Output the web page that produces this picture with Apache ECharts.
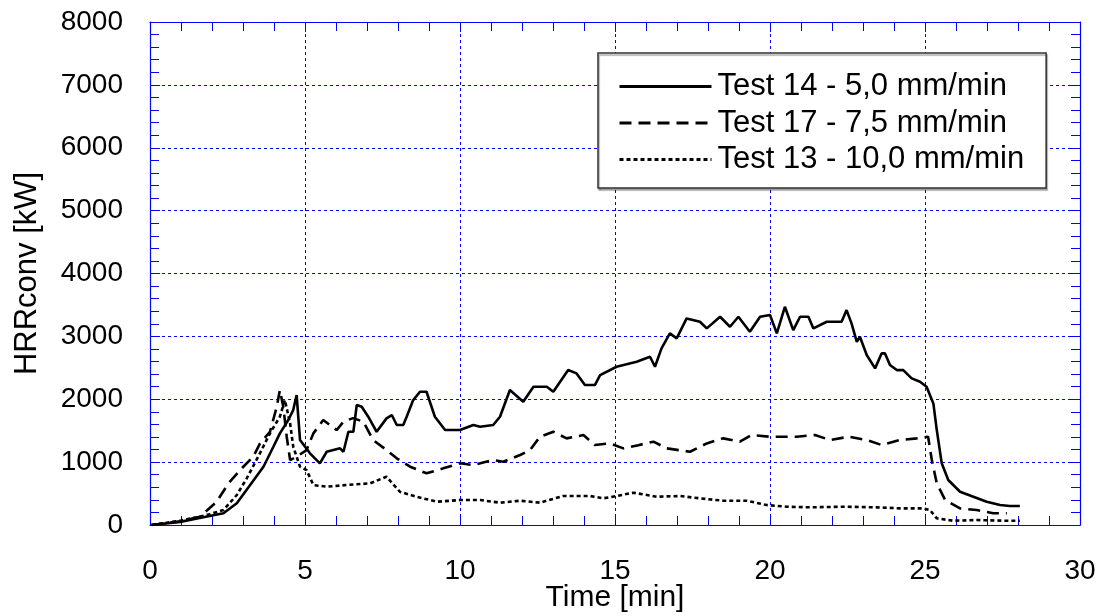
<!DOCTYPE html>
<html>
<head>
<meta charset="utf-8">
<script src="https://cdn.jsdelivr.net/npm/echarts@6/dist/echarts.min.js"></script>
<style>html,body{margin:0;padding:0;background:#fff;}#c{width:1114px;height:616px;}</style>
</head>
<body>
<div id="c"></div>
<script>
// Test 14 - 5,0 mm/min (solid)
const t14 = [0.05,0.97,1.6,2.37,2.8,3.23,3.66,3.98,4.19,4.46,4.62,4.73,4.84,5.16,5.48,5.7,6.13,6.24,6.4,6.56,6.67,6.83,7.04,7.31,7.63,7.8,7.96,8.17,8.28,8.49,8.71,8.92,9.19,9.52,10.0,10.43,10.65,11.07,11.29,11.61,12.04,12.37,12.8,13.01,13.49,13.76,14.03,14.35,14.52,15.05,15.7,16.13,16.29,16.5,16.77,16.99,17.31,17.74,17.96,18.39,18.71,18.98,19.35,19.68,20.0,20.22,20.48,20.75,20.97,21.24,21.4,21.83,22.31,22.47,22.63,22.8,22.9,23.12,23.39,23.6,23.71,23.87,24.09,24.3,24.57,24.84,25.05,25.27,25.38,25.54,25.75,26.13,26.56,26.99,27.42,27.74,28.06];
const v14 = [0,50,110,186,345,636,927,1245,1458,1670,1828,2067,1351,1140,981,1165,1219,1165,1483,1483,1908,1881,1722,1483,1696,1749,1590,1590,1722,1987,2119,2119,1722,1510,1510,1590,1563,1590,1722,2146,1960,2199,2199,2119,2464,2411,2226,2226,2385,2517,2597,2676,2517,2809,3048,2968,3286,3233,3127,3312,3153,3312,3074,3312,3339,3048,3471,3100,3312,3312,3127,3233,3233,3418,3207,2914,2994,2703,2491,2729,2729,2544,2464,2464,2332,2279,2199,1934,1510,981,715,529,450,370,318,302,302];
// Test 17 - 7,5 mm/min (dashed)
const t17 = [0.05,1.0,1.61,2.15,2.53,2.96,3.33,3.55,3.87,4.09,4.19,4.3,4.41,4.52,4.73,5.05,5.27,5.59,6.02,6.24,6.55,6.88,7.2,7.63,7.96,8.39,8.92,9.46,10.0,10.43,11.07,11.4,11.94,12.26,12.58,13.01,13.44,13.98,14.35,14.84,15.27,15.75,16.24,16.67,17.42,17.96,18.49,19.03,19.4,20.0,20.32,20.86,21.45,21.94,22.53,23.12,23.6,24.19,24.73,25.1,25.22,25.38,25.65,26.13,26.67,27.2,27.64];
const v17 = [0,60,132,370,662,901,1086,1298,1483,1881,2146,1881,1404,1033,1086,1192,1457,1670,1510,1643,1700,1643,1351,1192,1060,927,822,901,981,954,1033,1007,1113,1192,1404,1483,1378,1431,1272,1298,1219,1270,1325,1219,1165,1298,1378,1325,1431,1404,1404,1404,1431,1351,1404,1351,1272,1351,1378,1404,1033,662,397,265,238,186,186];
// Test 13 - 10,0 mm/min (dotted)
const t13 = [0.05,1.0,1.83,2.37,2.8,3.12,3.49,3.87,4.19,4.35,4.52,4.62,4.84,5.05,5.27,5.7,6.34,7.1,7.63,8.06,8.6,9.25,10.0,10.65,11.29,11.94,12.58,13.33,14.19,14.62,15.05,15.59,16.34,17.1,17.74,18.49,19.25,19.89,20.54,21.29,22.36,23.44,24.19,24.95,25.16,25.38,25.91,26.67,27.53,28.06];
const v13 = [0,70,159,238,477,742,1086,1458,1722,1987,1616,1245,927,874,636,609,636,662,768,529,450,370,397,397,355,386,355,461,461,424,461,514,450,461,424,386,386,318,291,281,291,281,265,265,238,106,68,79,68,68];

const names = ['Test 14 - 5,0 mm/min','Test 17 - 7,5 mm/min','Test 13 - 10,0 mm/min'];
const xTicks = [0,5,10,15,20,25,30];
const yTicks = [0,1000,2000,3000,4000,5000,6000,7000,8000];

const zip = (t, v) => t.map((x, i) => [x, v[i]]);
const FONT = '"Liberation Sans", Arial, sans-serif';
const BLUE = '#0000ff';

const mkLine = (name, data, type) => ({
  name, type: 'line', data, symbol: 'none', showSymbol: false,
  xAxisIndex: 0, yAxisIndex: 0,
  lineStyle: { color: '#000', width: 2.6, type: type },
  itemStyle: { color: '#000' },
  animation: false, z: 5
});

const tickCfg = { show: true, inside: true, length: 10, lineStyle: { color: BLUE, width: 1 } };
const minorCfg = { show: true, splitNumber: 5, length: 9, lineStyle: { color: BLUE, width: 1 } };
const lineCfg = { show: true, onZero: false, lineStyle: { color: BLUE, width: 1.2 } };

const chart = echarts.init(document.getElementById('c'));
chart.setOption({
  backgroundColor: '#fff',
  animation: false,
  grid: { left: 150, right: 34, top: 22, bottom: 91, containLabel: false, outerBoundsMode: 'none' },
  legend: {
    orient: 'vertical', left: 598, top: 53,
    padding: [18, 22, 13, 20], itemGap: 5.5,
    itemWidth: 92, itemHeight: 14,
    borderColor: '#333', borderWidth: 1.5, backgroundColor: '#fff',
    shadowColor: 'rgba(0,0,0,0.35)', shadowOffsetX: 1, shadowOffsetY: 2, shadowBlur: 1,
    itemStyle: { opacity: 0 },
    lineStyle: { width: 3 },
    textStyle: { fontFamily: FONT, fontSize: 31, color: '#000', padding: [0, 0, 0, 1] },
    data: names
  },
  xAxis: [{
    type: 'value', min: 0, max: 30, interval: 5,
    name: 'Time [min]', nameLocation: 'middle', nameGap: 58, nameMoveOverlap: false,
    nameTextStyle: { fontFamily: FONT, fontSize: 30, color: '#000' },
    axisLine: lineCfg, axisTick: tickCfg, minorTick: minorCfg,
    axisLabel: { fontFamily: FONT, fontSize: 28, color: '#000', margin: 32,
      formatter: v => xTicks.includes(v) ? String(v) : '' },
    splitLine: { show: true, lineStyle: { color: BLUE, type: [3, 3], width: 1 } }
  }, {
    type: 'value', min: 0, max: 30, interval: 5, position: 'top',
    axisLine: lineCfg, axisTick: tickCfg, minorTick: minorCfg,
    axisLabel: { show: false }, splitLine: { show: false }
  }],
  yAxis: [{
    type: 'value', min: 0, max: 8000, interval: 1000,
    name: 'HRRconv [kW]', nameLocation: 'middle', nameGap: 107, nameRotate: 90, nameMoveOverlap: false,
    nameTextStyle: { fontFamily: FONT, fontSize: 31, color: '#000' },
    axisLine: lineCfg, axisTick: tickCfg, minorTick: minorCfg,
    axisLabel: { fontFamily: FONT, fontSize: 28, color: '#000', margin: 27,
      formatter: v => yTicks.includes(v) ? String(v) : '' },
    splitLine: { show: true, lineStyle: { color: BLUE, type: [3, 3], width: 1 } }
  }, {
    type: 'value', min: 0, max: 8000, interval: 1000, position: 'right',
    axisLine: lineCfg, axisTick: tickCfg, minorTick: minorCfg,
    axisLabel: { show: false }, splitLine: { show: false }
  }],
  series: [
    mkLine(names[0], zip(t14, v14), 'solid'),
    mkLine(names[1], zip(t17, v17), [12, 7]),
    mkLine(names[2], zip(t13, v13), [4, 3])
  ]
});
</script>
</body>
</html>
